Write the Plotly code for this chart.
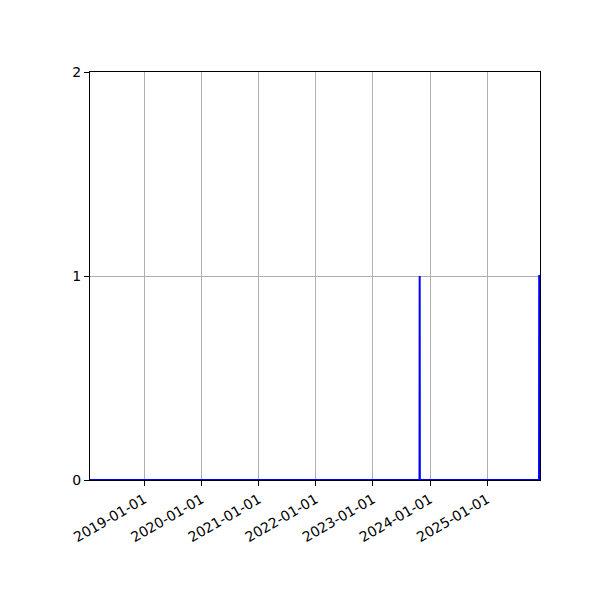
import plotly.graph_objects as go

dates = ["2018-01-19", "2023-10-26", "2023-10-27", "2023-10-28",
         "2025-11-28", "2025-11-29", "2025-12-04"]
counts = [0, 0, 1, 0, 0, 1, 1]
y_ticks = [0, 1, 2]

fig = go.Figure()
fig.add_trace(go.Scatter(x=dates, y=counts, mode="lines",
                         line=dict(color="blue", width=2), showlegend=False))

axis_common = dict(showline=True, linecolor="black", linewidth=1, mirror=True,
                   ticks="outside", ticklen=5, tickwidth=1, tickcolor="black",
                   showgrid=True, gridcolor="#b0b0b0", gridwidth=1, zeroline=False,
                   layer="below traces",
                   tickfont=dict(family="DejaVu Sans", size=14, color="black"))

fig.update_xaxes(type="date", range=[dates[0], dates[-1]], tick0="2019-01-01", dtick="M12",
                 tickformat="%Y-%m-%d", tickangle=-30, **axis_common)
fig.update_yaxes(range=[0, 2], tickvals=y_ticks, ticktext=[str(v) for v in y_ticks], **axis_common)

fig.update_layout(width=600, height=600, margin=dict(l=82, r=68, t=64, b=128),
                  plot_bgcolor="white", paper_bgcolor="white",
                  font=dict(family="DejaVu Sans", size=14, color="black"))

fig.write_html("out.html")
